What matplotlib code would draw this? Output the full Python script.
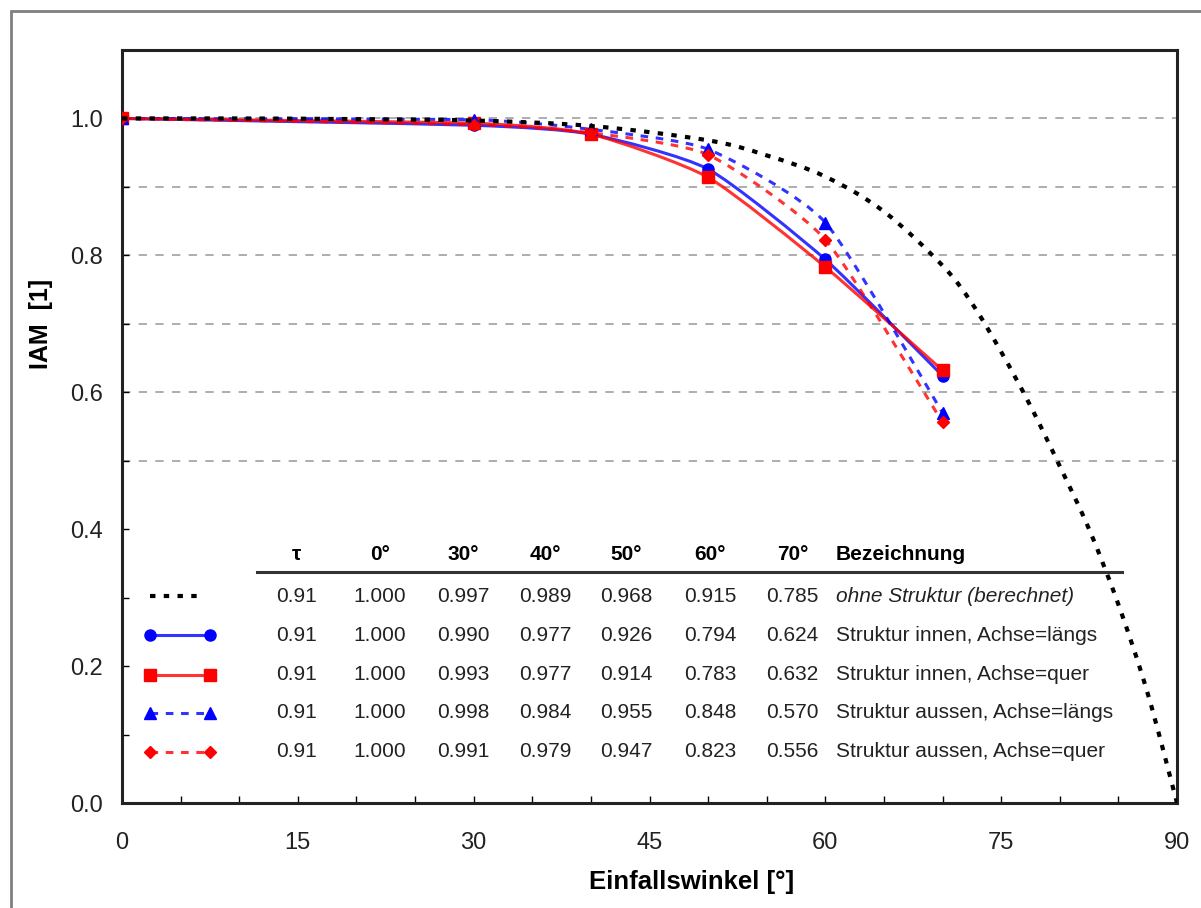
import numpy as np
import matplotlib
matplotlib.use("Agg")
import matplotlib.pyplot as plt
from matplotlib.path import Path
from matplotlib.patches import PathPatch, Rectangle

plt.rcParams['font.family'] = ['Liberation Sans', 'DejaVu Sans']

# --- data -------------------------------------------------------------
angles = [0, 30, 40, 50, 60, 70]
tau = [0.91, 0.91, 0.91, 0.91, 0.91]
names = ["ohne Struktur (berechnet)",
         "Struktur innen, Achse=längs",
         "Struktur innen, Achse=quer",
         "Struktur aussen, Achse=längs",
         "Struktur aussen, Achse=quer"]
ohne = [1.000, 0.997, 0.989, 0.968, 0.915, 0.785]
innen_laengs = [1.000, 0.990, 0.977, 0.926, 0.794, 0.624]
innen_quer = [1.000, 0.993, 0.977, 0.914, 0.783, 0.632]
aussen_laengs = [1.000, 0.998, 0.984, 0.955, 0.848, 0.570]
aussen_quer = [1.000, 0.991, 0.979, 0.947, 0.823, 0.556]

# calculated curve (0..90 deg)
calc_x = [0, 10, 20, 30, 40, 50, 55, 60, 65, 70, 72.5, 75, 77.5, 80, 82.5, 85, 87.5, 90]
calc_y = [1.0, 1.0, 0.999, 0.997, 0.989, 0.968, 0.946, 0.915, 0.864, 0.785,
          0.73, 0.659, 0.58, 0.492, 0.40, 0.29, 0.16, 0.0]

BLUE = "#0000ff"
RED = "#ff0000"


def smooth_path(x, y, k=10.0):
    # smoothed line: cubic bezier through the points
    x = np.asarray(x, float)
    y = np.asarray(y, float)
    pts = np.column_stack([x, y])
    verts = [pts[0]]
    codes = [Path.MOVETO]
    n = len(pts)
    for i in range(n - 1):
        p0 = pts[i - 1] if i > 0 else pts[i]
        p1 = pts[i]
        p2 = pts[i + 1]
        p3 = pts[i + 2] if i + 2 < n else pts[i + 1]
        c1 = p1 + (p2 - p0) / k
        c2 = p2 - (p3 - p1) / k
        verts += [c1, c2, p2]
        codes += [Path.CURVE4] * 3
    return Path(verts, codes)


fig = plt.figure(figsize=(12.01, 9.08), dpi=100)
fig.patches.append(Rectangle((11 / 1201, -0.1), 1.2, (908 - 11) / 908 + 0.1,
                             transform=fig.transFigure, fill=False,
                             edgecolor="#808080", linewidth=2))
ax = fig.add_axes([122 / 1201, 105 / 908, 1055 / 1201, 753 / 908])
ax.set_xlim(0, 90)
ax.set_ylim(0, 1.1)

for g in [0.5, 0.6, 0.7, 0.8, 0.9, 1.0]:
    ax.axhline(g, color="#a0a0a0", linestyle=(0, (5, 5)), linewidth=1.2, zorder=1)

series = [
    (innen_laengs, BLUE, "-", "o", 8),
    (innen_quer, RED, "-", "s", 8),
    (aussen_laengs, BLUE, (0, (2.5, 2.5)), "^", 8),
    (aussen_quer, RED, (0, (2.5, 2.5)), "D", 6),
]

ax.add_patch(PathPatch(smooth_path(calc_x, calc_y, 6.0), fill=False, edgecolor="black",
                       linestyle=(0, (1.3, 2)), linewidth=3, zorder=5))

for vals, col, ls, mk, ms in series:
    ax.add_patch(PathPatch(smooth_path(angles, vals), fill=False, edgecolor=col,
                           linestyle=ls, linewidth=2.2, alpha=0.8, zorder=3))
    ax.plot(angles, vals, linestyle="none", marker=mk, color=col, markersize=ms, zorder=4)

ax.set_xticks(np.arange(0, 91, 15))
ax.set_xticks(np.arange(0, 91, 5), minor=True)
ax.set_yticks(np.arange(0, 1.01, 0.2))
ax.set_yticks(np.arange(0, 1.11, 0.1), minor=True)
ax.set_yticklabels(["%.1f" % v for v in np.arange(0, 1.01, 0.2)])
ax.tick_params(which="both", direction="in", labelsize=17, length=5, width=1,
               colors="black")
ax.tick_params(axis="x", which="both", pad=21)
ax.tick_params(axis="y", which="both", pad=14)
for lab in ax.get_xticklabels() + ax.get_yticklabels():
    lab.set_color("#222222")
for s in ax.spines.values():
    s.set_linewidth(2.2)
    s.set_color("#222222")

ax.set_xlabel("Einfallswinkel [°]", fontsize=18.5, fontweight="bold")
ax.xaxis.set_label_coords(0.54, -0.089)
ax.set_ylabel("IAM  [1]", fontsize=18, fontweight="bold")
ax.yaxis.set_label_coords(-0.065, 0.636)

# --- table inside plot ----------------------------------------------
col_x = [14.85, 22.0, 29.1, 36.1, 43.0, 50.2, 57.2]
head_y = 0.363
row_y = [0.302, 0.245, 0.187, 0.132, 0.075]
heads = ["τ"] + ["%d°" % a for a in angles]
for cx, h in zip(col_x, heads):
    ax.text(cx, head_y, h, ha="center", va="center", fontsize=15, fontweight="bold")
ax.text(60.9, head_y, "Bezeichnung", ha="left", va="center", fontsize=15, fontweight="bold")
ax.plot([11.5, 85.3], [0.337, 0.337], color="#333333", linewidth=2.2, zorder=2)

all_rows = [ohne, innen_laengs, innen_quer, aussen_laengs, aussen_quer]
for r, (vals, name) in enumerate(zip(all_rows, names)):
    y = row_y[r]
    ax.text(col_x[0], y, "%.2f" % tau[r], ha="center", va="center", fontsize=15, color="#222222")
    for cx, v in zip(col_x[1:], vals):
        ax.text(cx, y, "%.3f" % v, ha="center", va="center", fontsize=15, color="#222222")
    ax.text(60.9, y, name, ha="left", va="center", fontsize=15, color="#222222",
            style="italic" if r == 0 else "normal")

# legend samples
ax.plot([2.4, 7.0], [row_y[0], row_y[0]], color="black", linestyle=(0, (1.3, 2)), linewidth=3)
for r, (vals, col, ls, mk, ms) in enumerate(series, start=1):
    ax.plot([2.4, 7.5], [row_y[r], row_y[r]], color=col, linestyle=ls, linewidth=2.2, alpha=0.8)
    ax.plot([2.4, 7.5], [row_y[r], row_y[r]], linestyle="none", marker=mk, color=col, markersize=ms)

fig.savefig("out.png", dpi=100)
